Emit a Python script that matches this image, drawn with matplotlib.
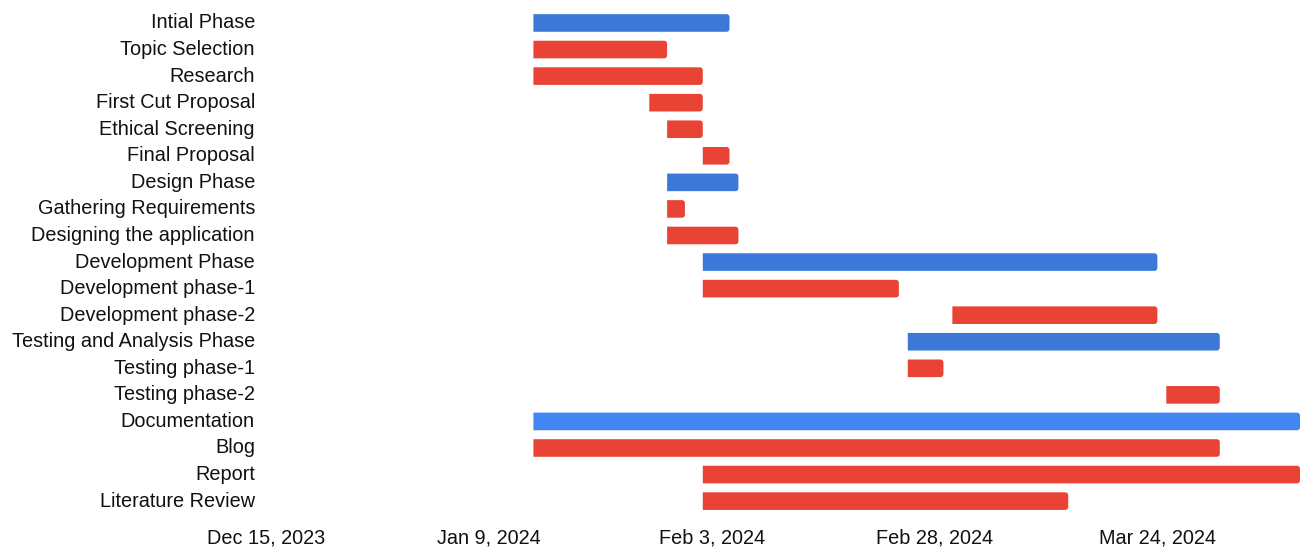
import matplotlib
matplotlib.use("Agg")
import matplotlib.pyplot as plt
import matplotlib.dates as mdates
import matplotlib.transforms as mtransforms
from matplotlib.patches import Polygon
import numpy as np
from datetime import date

plt.rcParams['font.family'] = ['Liberation Sans', 'DejaVu Sans']

tasks = ["Intial Phase", "Topic Selection", "Research", "First Cut Proposal",
         "Ethical Screening", "Final Proposal", "Design Phase",
         "Gathering Requirements", "Designing the application",
         "Development Phase", "Development phase-1", "Development phase-2",
         "Testing and Analysis Phase", "Testing phase-1", "Testing phase-2",
         "Documentation", "Blog", "Report", "Literature Review"]
starts = ["2024-01-14", "2024-01-14", "2024-01-14", "2024-01-27",
          "2024-01-29", "2024-02-02", "2024-01-29",
          "2024-01-29", "2024-01-29",
          "2024-02-02", "2024-02-02", "2024-03-01",
          "2024-02-25", "2024-02-25", "2024-03-25",
          "2024-01-14", "2024-01-14", "2024-02-02", "2024-02-02"]
ends = ["2024-02-05", "2024-01-29", "2024-02-02", "2024-02-02",
        "2024-02-02", "2024-02-05", "2024-02-06",
        "2024-01-31", "2024-02-06",
        "2024-03-24", "2024-02-24", "2024-03-24",
        "2024-03-31", "2024-02-29", "2024-03-31",
        "2024-04-09", "2024-03-31", "2024-04-09", "2024-03-14"]
colors = ["#3c78d8", "#e84335", "#e84335", "#e84335",
          "#e84335", "#e84335", "#3c78d8",
          "#e84335", "#e84335",
          "#3c78d8", "#e84335", "#e84335",
          "#3c78d8", "#e84335", "#e84335",
          "#4285f4", "#e84335", "#e84335", "#e84335"]
tick_dates = ["2023-12-15", "2024-01-09", "2024-02-03", "2024-02-28", "2024-03-24"]
tick_labels = ["Dec 15, 2023", "Jan 9, 2024", "Feb 3, 2024", "Feb 28, 2024", "Mar 24, 2024"]
x_min, x_max = "2023-12-15", "2024-04-09"

W, H = 1313, 556
fig = plt.figure(figsize=(W / 100, H / 100), dpi=100)
ax_left, ax_right = 266 / W, 1300 / W
ax_top, ax_bottom = 9.7 / H, 514.4 / H
ax = fig.add_axes([ax_left, 1 - ax_bottom, ax_right - ax_left, ax_bottom - ax_top])

def d(s):
    return mdates.date2num(date.fromisoformat(s))

x0, x1 = d(x_min), d(x_max)
ax.set_xlim(x0, x1)
n = len(tasks)
ax.set_ylim(n - 0.5, -0.5)

px_per_day = (1300 - 266) / (x1 - x0)
px_per_row = (514.4 - 9.7) / n
bar_h = 17.6 / px_per_row
r_px = 3.0
r_x = r_px / px_per_day
r_y = r_px / px_per_row

def bar_poly(xs, xe, yc):
    top, bot = yc - bar_h / 2, yc + bar_h / 2
    t = np.linspace(0, np.pi / 2, 8)
    pts = [(xs, top)]
    cx, cy = xe - r_x, top + r_y
    for a in t:
        pts.append((cx + r_x * np.sin(a), cy - r_y * np.cos(a)))
    cx, cy = xe - r_x, bot - r_y
    for a in t:
        pts.append((cx + r_x * np.cos(a), cy + r_y * np.sin(a)))
    pts.append((xs, bot))
    return pts

for i, (s, e, c) in enumerate(zip(starts, ends, colors)):
    ax.add_patch(Polygon(bar_poly(d(s), d(e), i), closed=True,
                         facecolor=c, edgecolor="none"))

ax.set_yticks(range(n))
ax.set_yticklabels(tasks, fontsize=14.3, color="#111111")
ax.set_xticks([d(t) for t in tick_dates])
ax.set_xticklabels(tick_labels, fontsize=14.3, color="#111111")
ax.tick_params(axis="y", length=0, pad=8)
ax.tick_params(axis="x", length=0, pad=10.5)
offset = mtransforms.ScaledTranslation(0, 2 / 100, fig.dpi_scale_trans)
for lab in ax.get_yticklabels():
    lab.set_transform(lab.get_transform() + offset)
for sp in ax.spines.values():
    sp.set_visible(False)

fig.savefig("out.png", dpi=100, facecolor="white")
